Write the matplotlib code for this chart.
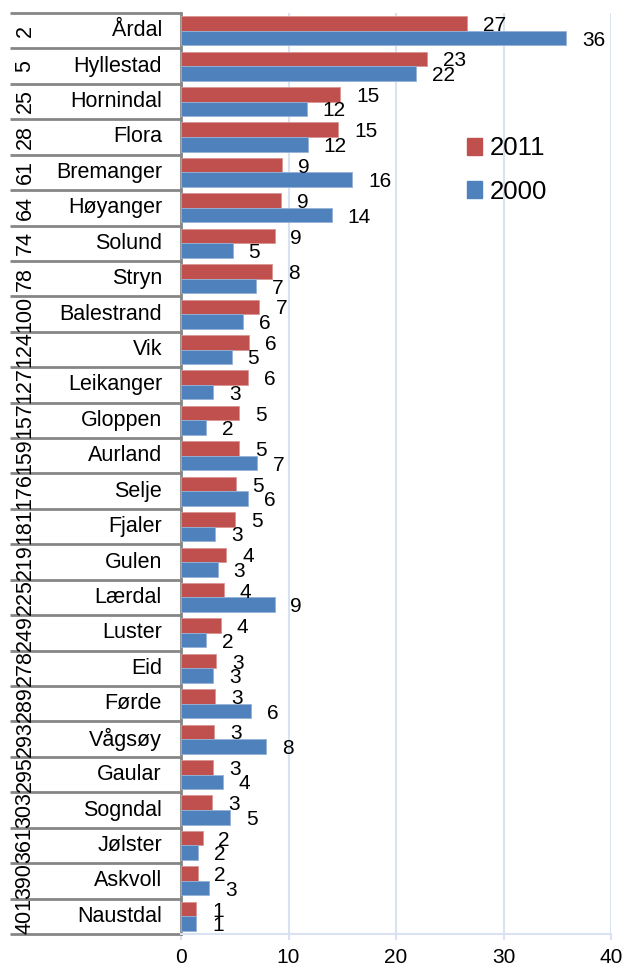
import numpy as np
import matplotlib
matplotlib.use("Agg")
import matplotlib.pyplot as plt
from matplotlib.patches import Patch
from matplotlib.transforms import blended_transform_factory

# ====== Data (top to bottom) ======
ranks = [2, 5, 25, 28, 61, 64, 74, 78, 100, 124, 127, 157, 159, 176, 181,
         219, 225, 249, 278, 289, 293, 295, 303, 361, 390, 401]
names = ["Årdal", "Hyllestad", "Hornindal", "Flora", "Bremanger", "Høyanger",
         "Solund", "Stryn", "Balestrand", "Vik", "Leikanger", "Gloppen",
         "Aurland", "Selje", "Fjaler", "Gulen", "Lærdal", "Luster", "Eid",
         "Førde", "Vågsøy", "Gaular", "Sogndal", "Jølster", "Askvoll", "Naustdal"]
val_2011 = [26.6, 22.9, 14.8, 14.6, 9.4, 9.3, 8.7, 8.5, 7.3, 6.3, 6.2, 5.4,
            5.4, 5.1, 5.0, 4.2, 4.0, 3.7, 3.3, 3.2, 3.1, 3.0, 2.9, 2.0, 1.6, 1.4]
val_2000 = [35.8, 21.9, 11.7, 11.8, 15.9, 14.0, 4.8, 7.0, 5.8, 4.7, 3.0, 2.3,
            7.1, 6.2, 3.2, 3.4, 8.7, 2.3, 3.0, 6.5, 7.9, 3.9, 4.6, 1.6, 2.6, 1.4]

RED = "#C0504D"
BLUE = "#4F81BD"
GRID = "#D9E2F1"
LINE = "#868686"

plt.rcParams['font.family'] = ['Liberation Sans', 'DejaVu Sans']

fig = plt.figure(figsize=(6.34, 9.68), dpi=100)
ax = fig.add_axes([181 / 634, 1 - 934 / 968, 430 / 634, 921 / 968])

y = np.arange(len(names))
h = 0.41
ax.barh(y - h / 2, val_2011, height=h, color=RED, edgecolor="#D99694", linewidth=0.6, zorder=3)
ax.barh(y + h / 2, val_2000, height=h, color=BLUE, edgecolor="#95B3D7", linewidth=0.6, zorder=3)

for yi, v in zip(y, val_2011):
    ax.annotate(str(int(round(v))), (v, yi - h / 2), xytext=(11.5, -1.5), textcoords="offset points",
                ha="left", va="center", fontsize=15)
for yi, v in zip(y, val_2000):
    ax.annotate(str(int(round(v))), (v, yi + h / 2), xytext=(11.5, -1.5), textcoords="offset points",
                ha="left", va="center", fontsize=15)

ax.set_xlim(0, 40)
ax.set_ylim(len(names) - 0.5, -0.5)
ax.set_xticks([0, 10, 20, 30, 40])
ax.set_yticks([])
ax.tick_params(axis="x", labelsize=15, color=GRID, length=4, width=1.5, pad=6)
ax.grid(axis="x", color=GRID, linewidth=1.5, zorder=0)
for s in ["top", "right"]:
    ax.spines[s].set_visible(False)
ax.spines["bottom"].set_color(GRID)
ax.spines["bottom"].set_linewidth(1.5)
ax.spines["left"].set_color(LINE)
ax.spines["left"].set_linewidth(2)

# left category table: rank + name
tr = blended_transform_factory(ax.transAxes, ax.transData)
x_left = (10 - 181) / 430
for yi, (r, n) in enumerate(zip(ranks, names)):
    ax.text((162 - 181) / 430, yi, n, transform=tr, ha="right", va="center", fontsize=15.5)
    ax.text((25 - 181) / 430, yi, str(r), transform=tr, ha="center", va="center",
            rotation=90, fontsize=15.5)
for b in np.arange(len(names) + 1) - 0.5:
    ax.plot([x_left, 0], [b, b], transform=tr, color=LINE, linewidth=2, clip_on=False,
            solid_capstyle="butt")

handles = [Patch(color=RED, label="2011"), Patch(color=BLUE, label="2000")]
ax.legend(handles=handles, loc="upper left", bbox_to_anchor=(0.665, 0.866), frameon=False,
          fontsize=18.5, handlelength=0.6, handleheight=0.6, handletextpad=0.3,
          labelspacing=0.75, borderpad=0, borderaxespad=0)

fig.savefig("out.png", dpi=100)
